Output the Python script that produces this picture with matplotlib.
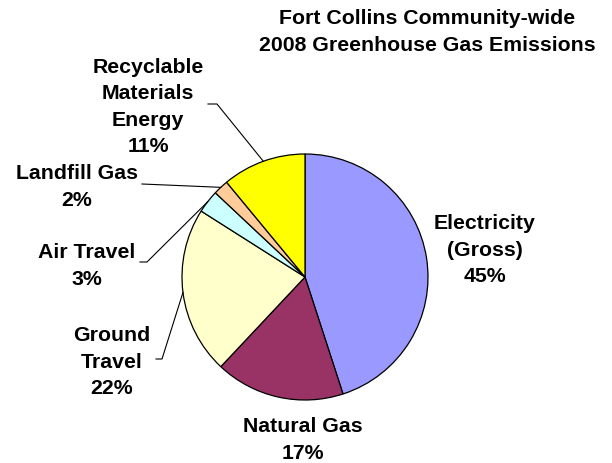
import numpy as np
import matplotlib
matplotlib.use("Agg")
from matplotlib import pyplot as plt

# data
categories = ["Electricity\n(Gross)", "Natural Gas", "Ground\nTravel",
              "Air Travel", "Landfill Gas", "Recyclable\nMaterials\nEnergy"]
shares = [45, 17, 22, 3, 2, 11]
colors = ["#9999FF", "#993366", "#FFFFCC", "#CCFFFF", "#FFCC99", "#FFFF00"]
title = "Fort Collins Community-wide\n2008 Greenhouse Gas Emissions"

W, H = 612, 463
CX, CY, R = 305, 277, 123   # pie centre / radius in pixels (from top)

# label layout: text centre (x, y from top), leader end, leader elbow (or None)
label_pos = [(485, 250), (303, 440), (112, 362), (87, 266), (77, 187), (148, 107)]
leaders = [None, None, ((156, 359), (162, 359)), ((140, 262), (147, 262)),
           ((142, 184), None), ((208, 104), (217, 104))]

plt.rcParams['font.family'] = ['Liberation Sans', 'DejaVu Sans']

fig = plt.figure(figsize=(W / 100, H / 100), dpi=100)
ax = fig.add_axes([0, 0, 1, 1])

wedges, _ = ax.pie(shares, colors=colors, startangle=90, counterclock=False,
                   center=(CX, H - CY), radius=R,
                   wedgeprops=dict(edgecolor='black', linewidth=0.9))
ax.set_xlim(0, W)
ax.set_ylim(0, H)
ax.set_aspect('auto')
ax.axis('off')

for w, name, val, (tx, ty), ld in zip(wedges, categories, shares, label_pos, leaders):
    ax.text(tx, H - ty, f"{name}\n{val}%", ha='center', va='center',
            fontsize=15.3, fontweight='bold', linespacing=1.5)
    if ld is None:
        continue
    mid = np.deg2rad((w.theta1 + w.theta2) / 2)
    ex, ey = CX + R * np.cos(mid), (H - CY) + R * np.sin(mid)
    end, elbow = ld
    pts = [end] + ([elbow] if elbow else [])
    xs = [p[0] for p in pts] + [ex]
    ys = [H - p[1] for p in pts] + [ey]
    ax.plot(xs, ys, color='black', linewidth=0.8)

ax.text(427, H - 32, title, ha='center', va='center',
        fontsize=15.3, fontweight='bold', linespacing=1.55)

fig.savefig("out.png", dpi=100)
